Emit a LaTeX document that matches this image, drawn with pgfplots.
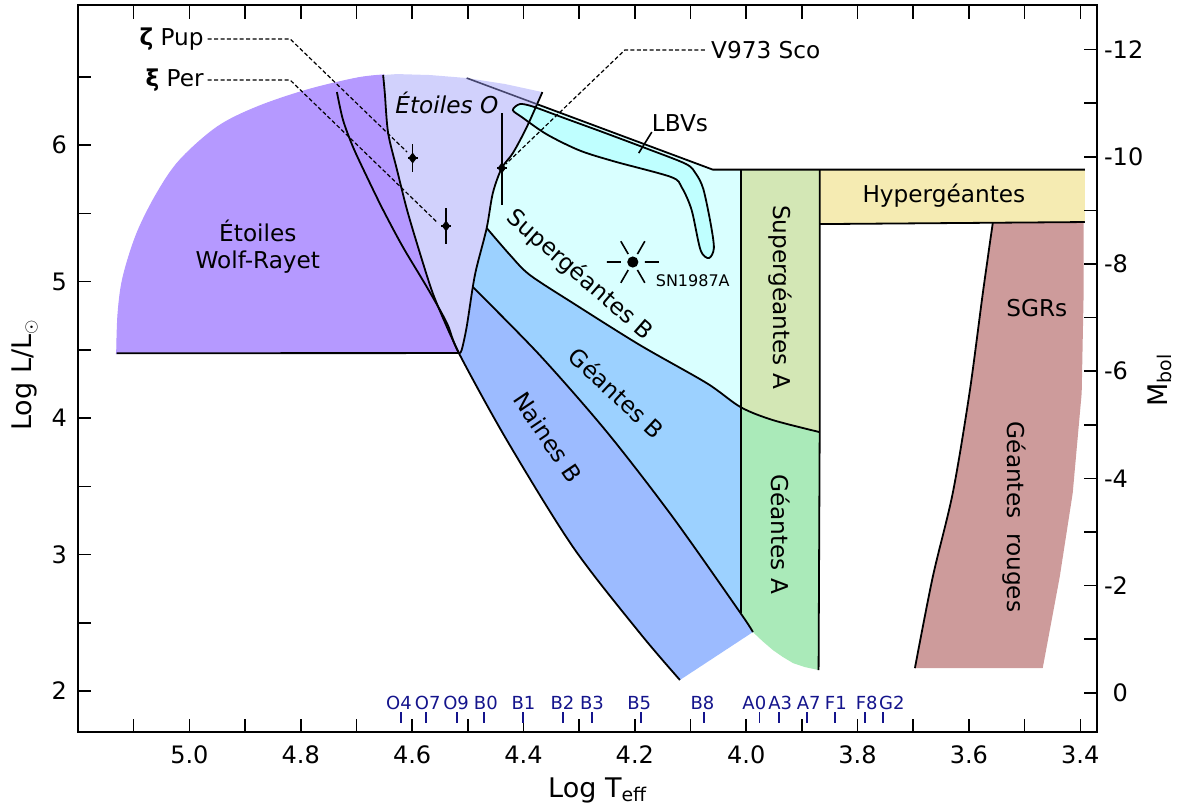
\documentclass[border=0pt]{standalone}
\usepackage{fontspec}
\setmainfont{DejaVu Sans}
\usepackage{pgfplots}
\pgfplotsset{compat=1.18}
\definecolor{cWR}{RGB}{181,153,255}
\definecolor{cO}{RGB}{209,209,252}
\definecolor{cSGB}{RGB}{217,255,255}
\definecolor{cLBV}{RGB}{191,255,255}
\definecolor{cGB}{RGB}{156,209,255}
\definecolor{cNB}{RGB}{156,187,255}
\definecolor{cSGA}{RGB}{211,231,181}
\definecolor{cGA}{RGB}{170,234,185}
\definecolor{cHG}{RGB}{245,235,178}
\definecolor{cRG}{RGB}{205,155,155}
\definecolor{cSp}{RGB}{20,20,140}
\definecolor{cHD}{RGB}{70,70,110}
\pgfdeclareplotmark{burst}{%
  \pgfpathcircle{\pgfpointorigin}{2.8pt}%
  \pgfusepathqfill
  \pgfsetlinewidth{0.8pt}%
  \pgfpathmoveto{\pgfpointpolar{0}{6pt}}\pgfpathlineto{\pgfpointpolar{0}{13pt}}%
  \pgfpathmoveto{\pgfpointpolar{60}{4.6pt}}\pgfpathlineto{\pgfpointpolar{60}{12pt}}%
  \pgfpathmoveto{\pgfpointpolar{120}{4.6pt}}\pgfpathlineto{\pgfpointpolar{120}{12pt}}%
  \pgfpathmoveto{\pgfpointpolar{180}{6pt}}\pgfpathlineto{\pgfpointpolar{180}{13pt}}%
  \pgfpathmoveto{\pgfpointpolar{240}{4.6pt}}\pgfpathlineto{\pgfpointpolar{240}{12pt}}%
  \pgfpathmoveto{\pgfpointpolar{300}{4.6pt}}\pgfpathlineto{\pgfpointpolar{300}{12pt}}%
  \pgfusepathqstroke
}
\tikzset{lab/.style={font=\fontsize{11.6}{13.5}\selectfont},
  sp/.style={font=\fontsize{9}{10}\selectfont, text=cSp, inner sep=0pt},
  reg/.style={black, line width=0.9pt},
  dsh/.style={line width=0.6pt, dash pattern=on 2pt off 1.2pt}}
\begin{document}
\begin{tikzpicture}
\useasboundingbox (-39pt,-38.5pt) rectangle (551.5pt,366pt);
\begin{axis}[
  at={(0,0)}, anchor=south west,
  width=509.5pt, height=363.5pt, scale only axis,
  xmin=3.37, xmax=5.2, ymin=1.70, ymax=7.026,
  x dir=reverse,
  axis line style={line width=1pt},
  tick align=inside,
  major tick length=6.75pt, minor tick length=6.75pt,
  tick style={black, line width=0.8pt},
  xtick={3.4,3.6,3.8,4.0,4.2,4.4,4.6,4.8,5.0},
  xticklabels={3.4,3.6,3.8,4.0,4.2,4.4,4.6,4.8,5.0},
  minor xtick={3.5,3.7,3.9,4.1,4.3,4.5,4.7,4.9,5.1},
  ytick={2,3,4,5,6}, yticklabels={2,3,4,5,6},
  minor ytick={2.5,3.5,4.5,5.5,6.5},
  xtick pos=both, xticklabel pos=lower,
  ytick pos=left, yticklabel pos=left,
  tick label style={font=\fontsize{12}{14}\selectfont},
  xticklabel style={yshift=-3.5pt},
  yticklabel style={xshift=-2pt},
  xlabel={Log T\textsubscript{eff}},
  ylabel={Log L/L\textsubscript{$\odot$}},
  every axis x label/.style={at={(axis description cs:0.51,-0.0798)}, anchor=center, font=\fontsize{13.5}{16}\selectfont},
  every axis y label/.style={at={(axis description cs:-0.052,0.491)}, rotate=90, anchor=center, font=\fontsize{13.5}{16}\selectfont},
]
% ---- fills ----
\addplot[fill=cWR, draw=cWR, line width=0.5pt, smooth, tension=0.55] coordinates {
 (5.1305,4.475) (5.128,4.769) (5.119,5.033) (5.094,5.355) (5.058,5.648) (5.017,5.890)
 (4.950,6.132) (4.879,6.278) (4.789,6.403) (4.699,6.491) (4.652,6.513)} -- cycle;
\addplot[fill=cWR, draw=cWR, line width=0.5pt] coordinates {
 (5.1305,4.475) (4.652,6.513)
 (4.649,6.381) (4.643,6.088) (4.627,5.817) (4.609,5.524) (4.586,5.209) (4.563,4.916)
 (4.5375,4.667) (4.516,4.476)} -- cycle;
\addplot[fill=cO, draw=none] coordinates {
 (4.652,6.513) (4.627,6.520) (4.568,6.513) (4.502,6.491) (4.433,6.447) (4.366,6.388)
 (4.394,6.132) (4.419,5.941) (4.439,5.831) (4.455,5.648) (4.466,5.392) (4.484,5.106)
 (4.491,4.960) (4.502,4.667) (4.511,4.498) (4.516,4.476)
 (4.5375,4.667) (4.563,4.916) (4.586,5.209) (4.609,5.524) (4.627,5.817) (4.643,6.088) (4.649,6.381)} -- cycle;
\addplot[fill=cSGB, draw=none] coordinates {
 (4.376,6.300) (4.060,5.82) (4.010,5.82) (4.010,4.08) (4.071,4.256) (4.191,4.535)
 (4.311,4.842) (4.3885,5.048) (4.424,5.194) (4.466,5.392) (4.455,5.648) (4.439,5.831)
 (4.419,5.941) (4.394,6.132)} -- cycle;
\addplot[fill=cGB, draw=none] coordinates {
 (4.466,5.392) (4.424,5.194) (4.3885,5.048) (4.311,4.842) (4.191,4.535) (4.071,4.256)
 (4.010,4.08) (4.010,2.57) (4.132,3.275) (4.250,3.897) (4.371,4.462) (4.491,4.960) (4.484,5.106)} -- cycle;
\addplot[fill=cNB, draw=none] coordinates {
 (4.516,4.476) (4.430,3.839) (4.311,3.055) (4.191,2.425) (4.119,2.081) (3.988,2.432)
 (4.010,2.57) (4.132,3.275) (4.250,3.897) (4.371,4.462) (4.491,4.960) (4.502,4.667) (4.511,4.498)} -- cycle;
\addplot[fill=cSGA, draw=none] coordinates {
 (4.010,5.82) (3.868,5.82) (3.868,3.897) (3.952,3.985) (4.010,4.08)} -- cycle;
\addplot[fill=cGA, draw=none] coordinates {
 (4.010,4.08) (3.952,3.985) (3.868,3.897) (3.870,2.154) (3.895,2.176) (3.916,2.205)
 (3.934,2.249) (3.952,2.300) (3.970,2.363) (3.988,2.432) (4.010,2.57)} -- cycle;
\addplot[fill=cHG, draw=none] coordinates {
 (3.868,5.82) (3.392,5.82) (3.392,5.436) (3.868,5.421)} -- cycle;
\addplot[fill=cRG, draw=none] coordinates {
 (3.557,5.434) (3.575,4.916) (3.599,4.183) (3.629,3.451) (3.665,2.835) (3.697,2.168)
 (3.4675,2.168) (3.437,2.835) (3.4136,3.451) (3.3975,4.183) (3.394,4.916) (3.394,5.434)} -- cycle;
% ---- LBV ----
\addplot[fill=cLBV, draw=black, line width=0.9pt, smooth, tension=0.5] coordinates {
 (4.263,6.103) (4.1785,5.974) (4.108,5.861) (4.090,5.788) (4.077,5.678) (4.064,5.429)
 (4.058,5.245) (4.067,5.172) (4.082,5.231) (4.098,5.524) (4.116,5.692) (4.135,5.766)
 (4.236,5.879) (4.299,5.960) (4.358,6.078) (4.403,6.205) (4.419,6.256) (4.4065,6.300)
 (4.383,6.282) (4.329,6.201) (4.263,6.103)} -- cycle;
% ---- boundary lines ----
\addplot[reg] coordinates {(5.1305,4.475) (4.516,4.476)};
\addplot[reg, smooth] coordinates {(4.652,6.513) (4.649,6.381) (4.643,6.088) (4.627,5.817) (4.609,5.524)
 (4.586,5.209) (4.563,4.916) (4.5375,4.667) (4.516,4.476)};
\addplot[reg, smooth] coordinates {(4.735,6.388) (4.724,6.183) (4.706,5.985) (4.681,5.766) (4.652,5.524)
 (4.6165,5.253) (4.5735,4.960) (4.5375,4.696) (4.516,4.476) (4.430,3.839) (4.311,3.055)
 (4.191,2.425) (4.119,2.081)};
\addplot[reg, smooth] coordinates {(4.366,6.388) (4.394,6.132) (4.419,5.941) (4.439,5.831) (4.455,5.648)
 (4.466,5.392) (4.484,5.106) (4.491,4.960) (4.502,4.667) (4.511,4.498) (4.516,4.476)};
\addplot[cHD, line width=0.8pt] coordinates {(4.502,6.491) (4.376,6.300)};
\addplot[reg] coordinates {(4.376,6.300) (4.060,5.82) (3.392,5.82)};
\addplot[reg, smooth] coordinates {(4.466,5.392) (4.424,5.194) (4.3885,5.048) (4.311,4.842) (4.191,4.535)
 (4.071,4.256) (4.010,4.08) (3.952,3.985) (3.868,3.897)};
\addplot[reg, smooth] coordinates {(4.491,4.960) (4.371,4.462) (4.250,3.897) (4.132,3.275) (4.010,2.57) (3.988,2.432)};
\addplot[reg] coordinates {(4.010,5.82) (4.010,2.57)};
\addplot[reg] coordinates {(3.868,5.82) (3.868,3.897) (3.870,2.154)};
\addplot[reg] coordinates {(3.868,5.421) (3.392,5.436)};
\addplot[reg, smooth] coordinates {(3.557,5.434) (3.575,4.916) (3.599,4.183) (3.629,3.451) (3.665,2.835) (3.697,2.168)};
% ---- stars with error bars ----
\addplot[black, only marks, mark=diamond*, mark size=2.4pt,
  error bars/.cd, x dir=both, x explicit, y dir=both, y explicit, error mark=none,
  error bar style={line width=0.8pt}]
  coordinates {(4.599,5.905) +- (0.009,0.10) (4.539,5.407) +- (0.009,0.13)};
\addplot[black, only marks, mark=diamond*, mark size=2.4pt,
  error bars/.cd, x dir=both, x explicit, y dir=both, y explicit, error mark=none,
  error bar style={line width=0.8pt}]
  coordinates {(4.439,5.831) += (0.009,0.403) -= (0.009,0.271)};
\addplot[black, only marks, mark=burst] coordinates {(4.2036,5.143)};
% ---- spectral types ----
\addplot[cSp, only marks, mark=|, mark size=2.75pt, mark options={line width=0.9pt}] coordinates {
 (4.620,1.806) (4.575,1.806) (4.520,1.806) (4.471,1.806) (4.401,1.806) (4.329,1.806)
 (4.277,1.806) (4.189,1.806) (4.076,1.806) (3.976,1.806) (3.9415,1.806) (3.891,1.806)
 (3.841,1.806) (3.787,1.806) (3.755,1.806)};
\node[sp] at (axis cs:4.6237,1.912) {O4};
\node[sp] at (axis cs:4.572,1.912) {O7};
\node[sp] at (axis cs:4.521,1.912) {O9};
\node[sp] at (axis cs:4.4675,1.912) {B0};
\node[sp] at (axis cs:4.400,1.912) {B1};
\node[sp] at (axis cs:4.330,1.912) {B2};
\node[sp] at (axis cs:4.277,1.912) {B3};
\node[sp] at (axis cs:4.192,1.912) {B5};
\node[sp] at (axis cs:4.0786,1.912) {B8};
\node[sp] at (axis cs:3.9853,1.912) {A0};
\node[sp] at (axis cs:3.9388,1.912) {A3};
\node[sp] at (axis cs:3.8876,1.912) {A7};
\node[sp] at (axis cs:3.839,1.912) {F1};
\node[sp] at (axis cs:3.7835,1.912) {F8};
\node[sp] at (axis cs:3.7386,1.912) {G2};
% ---- region labels ----
\node[lab, align=center] at (axis cs:4.877,5.253) {Étoiles\\Wolf-Rayet};
\node[font=\fontsize{11.6}{13.5}\selectfont\itshape] at (axis cs:4.5375,6.308) {Étoiles O};
\node[lab, rotate=-41] at (axis cs:4.299,5.048) {Supergéantes B};
\node[lab, rotate=-43] at (axis cs:4.232,4.183) {Géantes B};
\node[lab, rotate=-56] at (axis cs:4.356,3.861) {Naines B};
\node[lab, rotate=-90] at (axis cs:3.938,4.886) {Supergéantes A};
\node[lab, rotate=-90] at (axis cs:3.938,3.15) {Géantes A};
\node[lab] at (axis cs:3.645,5.626) {Hypergéantes};
\node[lab] at (axis cs:3.478,4.806) {SGRs};
\node[lab, rotate=-90] at (axis cs:3.518,3.275) {Géantes\ \ rouges};
\node[lab] at (axis cs:4.119,6.161) {LBVs};
\draw[line width=0.8pt] (axis cs:4.1695,6.095) -- (axis cs:4.193,5.941);
\node[font=\fontsize{8}{9}\selectfont] at (axis cs:4.096,5.004) {SN1987A};
% ---- annotations ----
\node[lab, anchor=east, inner sep=1pt] at (axis cs:4.970,6.777) {{\bfseries ζ} Pup};
\node[lab, anchor=east, inner sep=1pt] at (axis cs:4.970,6.476) {{\bfseries ξ} Per};
\node[lab, anchor=west, inner sep=1pt] at (axis cs:4.0671,6.696) {V973 Sco};
\draw[dsh] (axis cs:4.967,6.777) -- (axis cs:4.819,6.777) -- (axis cs:4.609,5.949);
\draw[dsh] (axis cs:4.967,6.476) -- (axis cs:4.819,6.476) -- (axis cs:4.5537,5.429);
\draw[dsh] (axis cs:4.0743,6.696) -- (axis cs:4.218,6.696) -- (axis cs:4.4316,5.861);
\end{axis}
\begin{axis}[
  at={(0,0)}, anchor=south west,
  width=509.5pt, height=363.5pt, scale only axis,
  xmin=3.37, xmax=5.2, ymin=-12.83, ymax=0.73, y dir=reverse,
  axis line style={draw=none},
  xtick=\empty,
  ytick={-12,-10,-8,-6,-4,-2,0},
  yticklabels={-12,-10,-8,-6,-4,-2,\phantom{-}0},
  minor ytick={-11,-9,-7,-5,-3,-1},
  ytick pos=right, yticklabel pos=right,
  tick align=inside, major tick length=6.75pt, minor tick length=6.75pt,
  tick style={black, line width=0.8pt},
  tick label style={font=\fontsize{12}{14}\selectfont},
  ylabel={M\textsubscript{bol}},
  every axis y label/.style={at={(axis description cs:1.0618,0.484)}, rotate=90, anchor=center, font=\fontsize{13.5}{16}\selectfont},
]
\end{axis}
\end{tikzpicture}
\end{document}
